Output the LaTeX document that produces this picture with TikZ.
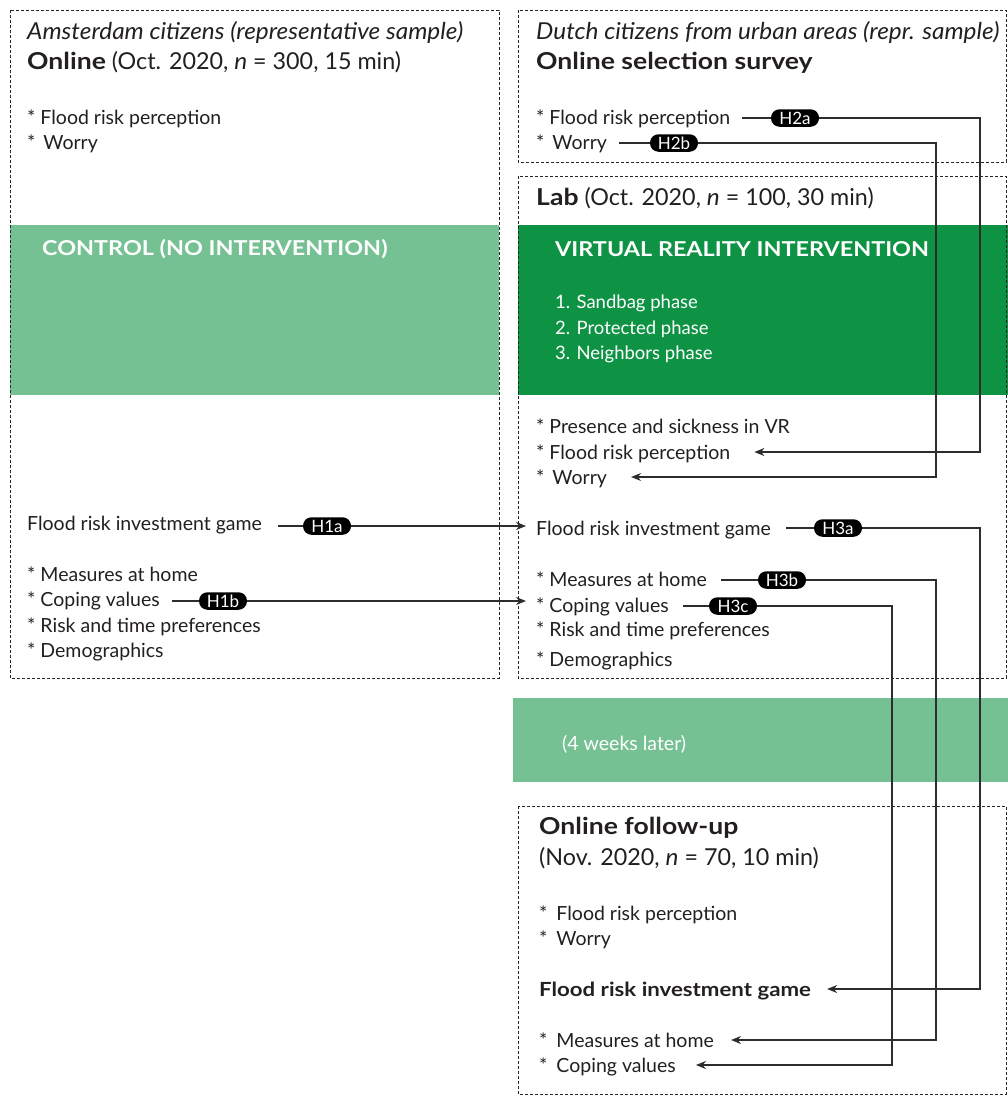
\documentclass[tikz,border=0pt]{standalone}
\usepackage{fontspec}
\setmainfont{Lato}[BoldFeatures={FakeStretch=1.14},ItalicFeatures={FakeStretch=1.045}]
\usetikzlibrary{arrows.meta}
\definecolor{lgreen}{RGB}{118,193,147}
\definecolor{dgreen}{RGB}{14,147,68}
\definecolor{lncol}{RGB}{45,45,45}
\definecolor{txtcol}{RGB}{35,31,32}
\tikzset{
  dbox/.style={draw=black!85, dash pattern=on 2.6pt off 2.4pt, line width=0.8pt},
  txt/.style={anchor=west, inner sep=0pt, text=txtcol, font=\fontsize{19.5}{22}\selectfont, text height=16pt, text depth=2pt},
  head/.style={txt, font=\fontsize{23.3}{26}\selectfont, text height=18pt, text depth=2pt},
  wtxt/.style={txt, text=white},
  wphase/.style={txt, text=white, font=\fontsize{18.5}{21}\selectfont},
  wbold/.style={txt, text=white, font=\fontsize{20.5}{23}\selectfont\bfseries},
  badge/.style={fill=black, text=white, rounded corners=8.5pt, minimum width=48pt, minimum height=17.5pt, inner sep=0pt, font=\fontsize{17}{18}\selectfont},
  conn/.style={draw=lncol, line width=1.1pt},
  arr/.style={conn, -{Stealth[length=10pt,width=8pt]}}
}
\begin{document}
\begin{tikzpicture}[x=1pt,y=-1pt]
\path[use as bounding box] (0,0) rectangle (1008,1095);
% boxes and bands
\fill[lgreen] (10,225) rectangle (499,395);
\fill[dgreen] (518,225) rectangle (1008,395);
\fill[lgreen] (513,698) rectangle (1008,782);
\draw[dbox] (10,10) rectangle (499,678);
\draw[dbox] (518,10) rectangle (1006,162);
\draw[dbox] (518,176) rectangle (1006,678);
\draw[dbox] (518,806) rectangle (1006,1094);
% left column
\node[head] (lt1) at (27,31) {\itshape Amsterdam citizens (representative sample)};
\node[head] (lt2) at (27,61) {\textbf{Online} (Oct. 2020, \textit{n} = 300, 15 min)};
\node[txt] (lfrp0) at (27,117) {* Flood risk perception};
\node[txt] (lw0) at (27,142) {*\hspace{3pt} Worry};
\node[wbold] (ctrl) at (42,248) {CONTROL (NO INTERVENTION)};
\node[txt] (lfig) at (27,523) {Flood risk investment game};
\node[txt] (lmah) at (27,574) {* Measures at home};
\node[txt] (lcv) at (27,599) {* Coping values};
\node[txt] (lrtp) at (27,625) {* Risk and time preferences};
\node[txt] (ldem) at (27,650) {* Demographics};
% right column
\node[head] (rt1) at (536,31) {\itshape Dutch citizens from urban areas (repr. sample)};
\node[head] (rt2) at (536,61) {\textbf{Online selection survey}};
\node[txt] (sfrp) at (536,117) {* Flood risk perception};
\node[txt] (sw) at (536,142) {*\hspace{3pt} Worry};
\node[head] (lab) at (536,197) {\textbf{Lab} (Oct. 2020, \textit{n} = 100, 30 min)};
\node[wbold] (vr) at (555,249) {VIRTUAL REALITY INTERVENTION};
\node[wphase] (p1) at (555,301) {1. Sandbag phase};
\node[wphase] (p2) at (555,327) {2. Protected phase};
\node[wphase] (p3) at (555,352) {3. Neighbors phase};
\node[txt] (pres) at (536,426) {* Presence and sickness in VR};
\node[txt] (lfrp) at (536,452) {* Flood risk perception};
\node[txt] (lw) at (536,477) {*\hspace{3pt} Worry};
\node[txt] (rfig) at (536,528) {Flood risk investment game};
\node[txt] (rmah) at (536,579) {* Measures at home};
\node[txt] (rcv) at (536,605) {* Coping values};
\node[txt] (rrtp) at (536,629) {* Risk and time preferences};
\node[txt] (rdem) at (536,659) {* Demographics};
\node[wtxt] (later) at (562,743) {(4 weeks later)};
\node[head] (fu1) at (539,826) {\textbf{Online follow-up}};
\node[head] (fu2) at (539,857) {(Nov. 2020, \textit{n} = 70, 10 min)};
\node[txt] (ffrp) at (539,913) {*\hspace{4pt} Flood risk perception};
\node[txt] (fw) at (539,938) {*\hspace{4pt} Worry};
\node[txt] (ffig) at (539,989) {\bfseries Flood risk investment game};
\node[txt] (fmah) at (539,1040) {*\hspace{4pt} Measures at home};
\node[txt] (fcv) at (539,1065) {*\hspace{4pt} Coping values};
% badges
\node[badge] (h1a) at (327,526) {H1a};
\node[badge] (h1b) at (223,601) {H1b};
\node[badge] (h2a) at (795,118) {H2a};
\node[badge] (h2b) at (674,143) {H2b};
\node[badge] (h3a) at (838,528) {H3a};
\node[badge] (h3b) at (782,580) {H3b};
\node[badge] (h3c) at (733,606) {H3c};
% connectors
\coordinate (vx1) at (892,0);
\coordinate (vx2) at (936,0);
\coordinate (vx3) at (980,0);
\draw[conn] ([xshift=16pt]lfig.east |- h1a) -- (h1a.west);
\draw[arr] (h1a.east) -- ([xshift=-10pt]rfig.west |- h1a);
\draw[conn] ([xshift=12pt]lcv.east |- h1b) -- (h1b.west);
\draw[arr] (h1b.east) -- ([xshift=-10pt]rcv.west |- h1b);
\draw[conn] ([xshift=12pt]sfrp.east |- h2a) -- (h2a.west);
\draw[arr] (h2a.east) -- (vx3 |- h2a) -- (vx3 |- lfrp) -- ([xshift=24pt]lfrp.east);
\draw[conn] ([xshift=12pt]sw.east |- h2b) -- (h2b.west);
\draw[arr] (h2b.east) -- (vx2 |- h2b) -- (vx2 |- lw) -- ([xshift=24pt]lw.east);
\draw[conn] ([xshift=15pt]rfig.east |- h3a) -- (h3a.west);
\draw[arr] (h3a.east) -- (vx3 |- h3a) -- (vx3 |- ffig) -- ([xshift=16pt]ffig.east);
\draw[conn] ([xshift=14pt]rmah.east |- h3b) -- (h3b.west);
\draw[arr] (h3b.east) -- (vx2 |- h3b) -- (vx2 |- fmah) -- ([xshift=17pt]fmah.east);
\draw[conn] ([xshift=14pt]rcv.east |- h3c) -- (h3c.west);
\draw[arr] (h3c.east) -- (vx1 |- h3c) -- (vx1 |- fcv) -- ([xshift=20pt]fcv.east);
\end{tikzpicture}
\end{document}
